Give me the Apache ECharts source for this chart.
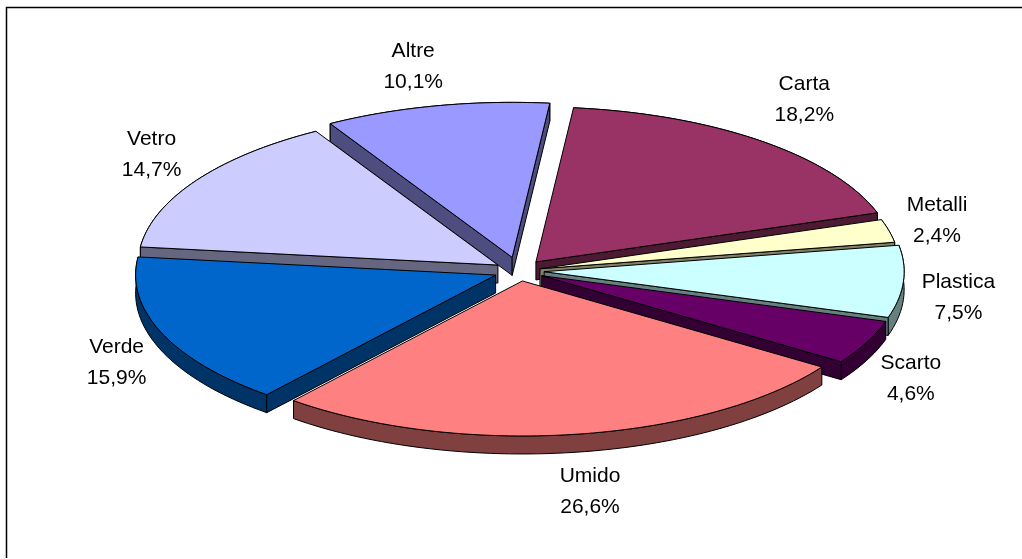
<!DOCTYPE html>
<html>
<head>
<meta charset="utf-8">
<style>html,body{margin:0;padding:0;background:#fff}#chart{width:1022px;height:559px}</style>
<script src="https://cdn.jsdelivr.net/npm/echarts@6/dist/echarts.min.js"></script>
</head>
<body>
<div id="chart"></div>
<script>
const categories = ['Carta', 'Metalli', 'Plastica', 'Scarto', 'Umido', 'Verde', 'Vetro', 'Altre'];
const shares = [18.2, 2.4, 7.5, 4.6, 26.6, 15.9, 14.7, 10.1];
const topColors = ['#993366', '#FFFFCC', '#CCFFFF', '#660066', '#FF8080', '#0066CC', '#CCCCFF', '#9999FF'];
const sideColors = ['#4D1A33', '#808066', '#668080', '#330033', '#804040', '#003366', '#666680', '#4D4D80'];
const explode = [0.075, 0.06, 0.07, 0.07, 0.065, 0.07, 0.07, 0.09];
const labelShiftX = [43, 48, 55, 44, 15, -45, -45, -23];
const labelShiftY = [-41, -10, 16, 36, 57, 30, -26, -39];

const CX = 519, CY = 271, RX = 360, RY = 155, DEPTH = 18, START = 6;
const total = shares.reduce((a, b) => a + b, 0);
const rad = d => d * Math.PI / 180;
const onEllipse = (deg, k) => [k * RX * Math.sin(rad(deg)), -k * RY * Math.cos(rad(deg))];

const spans = [];
shares.reduce((from, v) => {
  const to = from + v / total * 360;
  spans.push([from, to]);
  return to;
}, START);
const depthRank = spans
  .map((s, i) => ({ i, key: -Math.cos(rad((s[0] + s[1]) / 2)) }))
  .sort((a, b) => a.key - b.key)
  .reduce((acc, o, r) => { acc[o.i] = r; return acc; }, {});

// A cut face shows only when its outward normal points down the screen, towards the viewer.
function faceVisible(ax, ay, p, m) {
  const ex = p[0] - ax, ey = p[1] - ay;
  let nx = -ey, ny = ex;
  if (nx * (m[0] - ax) + ny * (m[1] - ay) > 0) { nx = -nx; ny = -ny; }
  return ny > 0;
}

function renderItem(params, api) {
  const i = params.dataIndex;
  const value = api.value(0);
  const [a0, a1] = spans[i];
  const mid = (a0 + a1) / 2;
  const off = onEllipse(mid, explode[i]);
  const ax = CX + off[0], ay = CY + off[1];
  const arc = [];
  const n = Math.max(4, Math.ceil((a1 - a0) / 1.5));
  for (let s = 0; s <= n; s++) {
    const p = onEllipse(a0 + (a1 - a0) * s / n, 1);
    arc.push([ax + p[0], ay + p[1]]);
  }
  const down = p => [p[0], p[1] + DEPTH];
  const first = arc[0], last = arc[arc.length - 1];
  const midRim = arc[Math.floor(n / 2)];
  const base = depthRank[i] * 10;
  const line = { stroke: '#000', lineWidth: 1, lineJoin: 'round' };
  const face = (pts, fill, z) => ({
    type: 'polygon', z2: base + z,
    shape: { points: pts },
    style: Object.assign({ fill }, line)
  });
  const rim = onEllipse(mid, 1 + explode[i]);
  const children = [face(arc.concat(arc.slice().reverse().map(down)), sideColors[i], 0)];
  [first, last].forEach(p => {
    if (faceVisible(ax, ay, p, midRim)) {
      children.push(face([[ax, ay], p, down(p), [ax, ay + DEPTH]], sideColors[i], 1));
    }
  });
  children.push(face([[ax, ay]].concat(arc), topColors[i], 2));
  children.push({
    type: 'text', z2: 500,
    x: CX + rim[0] + labelShiftX[i],
    y: CY + rim[1] + labelShiftY[i],
    style: {
      text: categories[i] + '\n' + value.toFixed(1).replace('.', ',') + '%',
      fill: '#000',
      font: '21px "Liberation Sans", Arial, sans-serif',
      lineHeight: 31,
      align: 'center',
      verticalAlign: 'middle'
    }
  });
  return { type: 'group', children };
}

const chart = echarts.init(document.getElementById('chart'), null, { renderer: 'canvas' });
chart.setOption({
  animation: false,
  backgroundColor: '#fff',
  graphic: [{
    type: 'polyline', silent: true,
    shape: { points: [[6.5, 558], [6.5, 7.5], [1022, 7.5]] },
    style: { fill: 'none', stroke: '#000', lineWidth: 1.5 }
  }],
  series: [{
    type: 'custom',
    coordinateSystem: 'none',
    renderItem,
    data: categories.map((name, i) => ({ name, value: [shares[i]] }))
  }]
});
</script>
</body>
</html>
